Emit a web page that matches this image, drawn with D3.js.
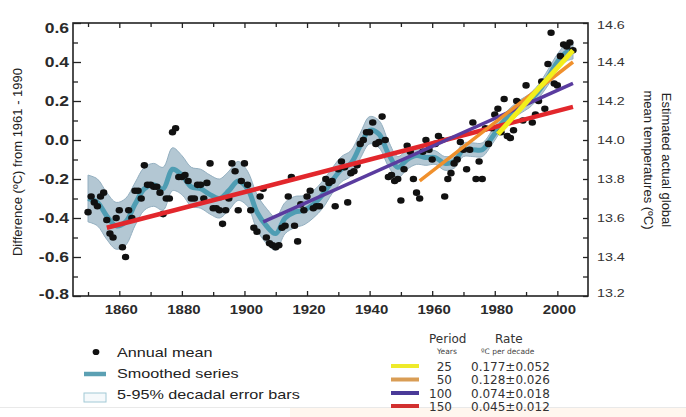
<!DOCTYPE html>
<html><head><meta charset="utf-8">
<script src="https://cdn.jsdelivr.net/npm/d3@7"></script>
<style>html,body{margin:0;padding:0;background:#fff;} svg{display:block;}</style>
</head><body><svg id="c" width="686" height="417"></svg>
<script>
// ---------- DATA ----------
const firstYear = 1850;
const annualMean = [
 -0.37,-0.29,-0.32,-0.34,-0.29,-0.27,-0.41,-0.48,-0.50,-0.40,
 -0.36,-0.55,-0.60,-0.36,-0.40,-0.26,-0.26,-0.30,-0.13,-0.23,
 -0.23,-0.24,-0.24,-0.27,-0.38,-0.30,-0.30, 0.04, 0.06,-0.19,
 -0.19,-0.18,-0.21,-0.30,-0.30,-0.23,-0.23,-0.30,-0.22,-0.12,
 -0.35,-0.35,-0.36,-0.43,-0.36,-0.30,-0.12,-0.16,-0.36,-0.21,
 -0.12,-0.23,-0.36,-0.45,-0.47,-0.29,-0.25,-0.50,-0.53,-0.54,
 -0.55,-0.54,-0.45,-0.44,-0.29,-0.19,-0.44,-0.52,-0.33,-0.36,
 -0.29,-0.26,-0.35,-0.34,-0.34,-0.25,-0.20,-0.22,-0.21,-0.34,
 -0.15,-0.11,-0.14,-0.32,-0.17,-0.16,-0.13,-0.02, 0.00, 0.04,
  0.04, 0.09,-0.02,-0.01, 0.12, 0.00,-0.19,-0.18,-0.21,-0.20,
 -0.31,-0.15,-0.03,-0.06,-0.20,-0.27,-0.30,-0.06, 0.00,-0.05,
 -0.10,-0.02, 0.02, 0.00,-0.29,-0.20,-0.17,-0.12,-0.10,-0.01,
 -0.05,-0.15,-0.05, 0.09,-0.20,-0.11,-0.20, 0.06,-0.02, 0.06,
  0.13, 0.16, 0.04, 0.21, 0.02, 0.01, 0.05, 0.20, 0.19, 0.10,
  0.28, 0.20, 0.09, 0.13, 0.20, 0.30, 0.16, 0.39, 0.55, 0.29,
  0.28, 0.43, 0.49, 0.48, 0.50, 0.46
];
const smoothYears = [1850,1853,1856,1859,1862,1865,1868,1871,1874,1877,1880,1883,1886,1889,1892,1895,1898,1901,1904,1907,1910,1913,1916,1919,1922,1925,1928,1931,1934,1937,1940,1943,1946,1949,1952,1955,1958,1961,1964,1967,1970,1973,1976,1979,1982,1985,1988,1991,1994,1997,2000,2003,2005];
const smoothValues = [-0.30,-0.32,-0.39,-0.44,-0.42,-0.33,-0.25,-0.23,-0.25,-0.15,-0.18,-0.24,-0.25,-0.28,-0.30,-0.26,-0.21,-0.25,-0.37,-0.44,-0.48,-0.40,-0.37,-0.36,-0.33,-0.28,-0.21,-0.15,-0.12,-0.03,0.05,0.03,-0.07,-0.14,-0.10,-0.08,-0.09,-0.09,-0.12,-0.11,-0.05,-0.05,-0.05,0.01,0.08,0.13,0.17,0.20,0.25,0.32,0.40,0.45,0.46];
const errorHalfWidth = [0.12,0.12,0.12,0.12,0.12,0.11,0.11,0.11,0.11,0.11,0.10,0.10,0.10,0.10,0.10,0.10,0.10,0.09,0.09,0.09,0.085,0.08,0.08,0.075,0.07,0.07,0.065,0.065,0.065,0.065,0.07,0.07,0.065,0.055,0.05,0.045,0.04,0.035,0.035,0.035,0.035,0.035,0.035,0.035,0.035,0.035,0.035,0.035,0.035,0.04,0.04,0.045,0.045];

const trendPeriods = ["25","50","100","150"];
const trendRates = ["0.177\u00b10.052","0.128\u00b10.026","0.074\u00b10.018","0.045\u00b10.012"];
const trendStartYear = [1981,1956,1906,1856];
const trendEndYear = [2005,2005,2005,2005];
const trendStartValue = [0.03,-0.21,-0.42,-0.45];
const trendEndValue = [0.46,0.40,0.29,0.17];

const leftTicks = [0.6,0.4,0.2,0.0,-0.2,-0.4,-0.6,-0.8];
const leftMinor = [0.5,0.3,0.1,-0.1,-0.3,-0.5,-0.7];
const rightTicks = [14.6,14.4,14.2,14.0,13.8,13.6,13.4,13.2];
const rightMinor = [14.5,14.3,14.1,13.9,13.7,13.5,13.3];
const xLabelTicks = [1860,1880,1900,1920,1940,1960,1980,2000];
const xMinorTicks = [1850,1870,1890,1910,1930,1950,1970,1990];

const legendItems = ["Annual mean","Smoothed series","5-95% decadal error bars"];

// ---------- STYLE ----------
const trendColors = ["#f3ef1c","#f0902c","#5a3c9f","#e2272c"];
const trendWidths = [5,3.5,3.5,4.5];
const legendSwatchColors = ["#eeea2a","#d99d55","#4a3a98","#d2302f"];
const sansB = "'Liberation Sans', Arial, sans-serif";
const dejavu = "'DejaVu Sans', sans-serif";

// ---------- CHART ----------
const svg = d3.select("#c");
const L = 73, R = 588, T = 23, B = 296;
const x = d3.scaleLinear().domain([1845.2, 2009.8]).range([L, R]);
const y = d3.scaleLinear().domain([-0.8, 0.6]).range([B, T]);
const yR = d3.scaleLinear().domain([13.2, 14.6]).range([B, T]);

// faint bottom artefacts
svg.append("rect").attr("x",290).attr("y",408).attr("width",396).attr("height",9).attr("fill","#fff6ee");
svg.append("line").attr("x1",0).attr("x2",686).attr("y1",407.5).attr("y2",407.5).attr("stroke","#e9e9e9").attr("stroke-width",1);

const plot = svg.append("g");

// error band
const bandData = smoothYears.map((yr,i)=>({yr, v: smoothValues[i], h: errorHalfWidth[i]}));
const area = d3.area().x(d=>x(d.yr)).y0(d=>y(d.v - d.h)).y1(d=>y(d.v + d.h)).curve(d3.curveCatmullRom.alpha(0.5));
plot.append("path").datum(bandData).attr("d", area)
  .attr("fill","#b3c7d3").attr("stroke","#93afc0").attr("stroke-width",1);

// smoothed line
const line = d3.line().x(d=>x(d.yr)).y(d=>y(d.v)).curve(d3.curveCatmullRom.alpha(0.5));
plot.append("path").datum(bandData).attr("d", line)
  .attr("fill","none").attr("stroke","#4f9db3").attr("stroke-width",5).attr("stroke-linejoin","round");

// dots
plot.selectAll("ellipse.dot").data(annualMean).join("ellipse")
  .attr("cx",(d,i)=>x(firstYear+i)).attr("cy",d=>y(d))
  .attr("rx",3.7).attr("ry",3.3).attr("fill","#111");

// trend lines (draw 150 first, 25 last)
for (let i = trendPeriods.length-1; i >= 0; i--) {
  plot.append("line")
    .attr("x1", x(trendStartYear[i])).attr("y1", y(trendStartValue[i]))
    .attr("x2", x(trendEndYear[i])).attr("y2", y(trendEndValue[i]))
    .attr("stroke", trendColors[i]).attr("stroke-width", trendWidths[i]);
}

// frame
svg.append("rect").attr("x",L).attr("y",T).attr("width",R-L).attr("height",B-T)
  .attr("fill","none").attr("stroke","#222").attr("stroke-width",1.6);

// ticks via axes (no labels)
const axG = svg.append("g").attr("class","axes");
function styleAxis(g){ g.select(".domain").remove(); g.selectAll("line").attr("stroke","#222").attr("stroke-width",1.3); g.selectAll("text").remove(); }
axG.append("g").attr("transform",`translate(${L},0)`).call(d3.axisLeft(y).tickValues(leftTicks).tickSize(-8).tickFormat("")).call(styleAxis);
axG.append("g").attr("transform",`translate(${L},0)`).call(d3.axisLeft(y).tickValues(leftMinor).tickSize(-5).tickFormat("")).call(styleAxis);
axG.append("g").attr("transform",`translate(${R},0)`).call(d3.axisRight(yR).tickValues(rightTicks).tickSize(-5).tickFormat("")).call(styleAxis);
axG.append("g").attr("transform",`translate(${R},0)`).call(d3.axisRight(yR).tickValues(rightMinor).tickSize(-5).tickFormat("")).call(styleAxis);
axG.append("g").attr("transform",`translate(0,${B})`).call(d3.axisBottom(x).tickValues(xLabelTicks).tickSize(-5).tickFormat("")).call(styleAxis);
axG.append("g").attr("transform",`translate(0,${B})`).call(d3.axisBottom(x).tickValues(xMinorTicks).tickSize(-4).tickFormat("")).call(styleAxis);
axG.append("g").attr("transform",`translate(0,${T})`).call(d3.axisTop(x).tickValues(xLabelTicks).tickSize(-5).tickFormat("")).call(styleAxis);
axG.append("g").attr("transform",`translate(0,${T})`).call(d3.axisTop(x).tickValues(xMinorTicks).tickSize(-4).tickFormat("")).call(styleAxis);

// text helper
function txt(str, tx, ty, o) {
  o = o || {};
  const sx = o.sx || 1;
  return svg.append("text")
    .attr("transform", `translate(${tx},${ty}) ${o.rot ? "rotate("+o.rot+")" : ""} scale(${sx},1)`)
    .attr("text-anchor", o.anchor || "start")
    .attr("font-family", o.font || sansB)
    .attr("font-size", o.size || 12)
    .attr("font-weight", o.weight || "normal")
    .attr("fill", o.fill || "#222")
    .text(str);
}

// left labels
leftTicks.forEach((v,i)=>{
  let yy = y(v) + 5;
  if (i === 0) yy += 5;
  if (i === leftTicks.length-1) yy -= 2;
  txt(d3.format(".1f")(v).replace("\u2212","-"), 69, yy, {anchor:"end", size:14, weight:"bold", sx:1.25, fill:"#2a2a2a"});
});
// right labels
rightTicks.forEach((v,i)=>{
  let yy = yR(v) + 4;
  if (i === 0) yy += 2;
  if (i === rightTicks.length-1) yy -= 3;
  txt(d3.format(".1f")(v), 597, yy, {size:11, sx:1.3, fill:"#333"});
});
// bottom labels
xLabelTicks.forEach(v=>{
  txt(String(v), x(v)+2, 314, {anchor:"middle", size:13, weight:"bold", sx:1.15, fill:"#2a2a2a"});
});

// axis titles
txt("Difference (\u00baC) from 1961 - 1990", 22, 162, {anchor:"middle", rot:-90, size:13, fill:"#222"});
txt("Estimated actual global", 662, 160, {anchor:"middle", rot:90, size:13, fill:"#222"});
txt("mean temperatures (\u00baC)", 644, 160, {anchor:"middle", rot:90, size:13, fill:"#222"});

// left legend
svg.append("ellipse").attr("cx",96).attr("cy",352).attr("rx",3.4).attr("ry",3.1).attr("fill","#111");
svg.append("line").attr("x1",84).attr("x2",106).attr("y1",374).attr("y2",374).attr("stroke","#5ba0b3").attr("stroke-width",4.5);
svg.append("rect").attr("x",84).attr("y",393).attr("width",22).attr("height",9).attr("fill","#f5f9fb").attr("stroke","#a2c9d6").attr("stroke-width",1);
legendItems.forEach((s,i)=>{
  txt(s, 117, 357 + i*21, {size:12, sx:1.35, fill:"#222"});
});

// right legend
txt("Period", 429, 343, {font:dejavu, size:12, fill:"#333"});
txt("Rate", 495, 343, {font:dejavu, size:12, fill:"#333"});
txt("Years", 437, 354, {font:dejavu, size:7.5, fill:"#444"});
txt("\u00baC  per decade", 481, 354, {font:dejavu, size:7.5, fill:"#444"});
const rowY = [366, 379.5, 393, 406];
trendPeriods.forEach((p,i)=>{
  svg.append("line").attr("x1",391).attr("x2",419).attr("y1",rowY[i]).attr("y2",rowY[i])
    .attr("stroke",legendSwatchColors[i]).attr("stroke-width",4);
  txt(p, 452, rowY[i]+4.5, {font:dejavu, size:12, anchor:"end", fill:"#333"});
  txt(trendRates[i], 471, rowY[i]+4.5, {font:dejavu, size:12, fill:"#333"});
});
</script>
</body></html>
